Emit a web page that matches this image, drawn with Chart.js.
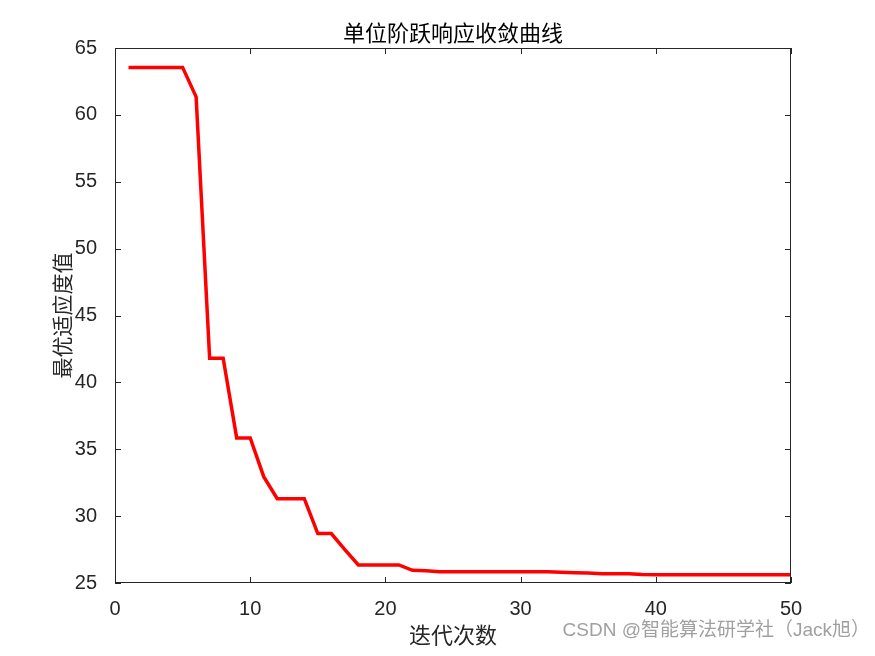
<!DOCTYPE html>
<html>
<head>
<meta charset="utf-8">
<script src="https://cdn.jsdelivr.net/npm/chart.js@4.4.1/dist/chart.umd.min.js"></script>
<style>
  html, body { margin: 0; padding: 0; background: #fff; }
  canvas { display: block; }
</style>
</head>
<body>
<canvas id="chart" width="875" height="656"></canvas>
<script>
// 迭代次数 (x)
const iterations = [1, 2, 3, 4, 5, 6, 7, 8, 9, 10,
  11, 12, 13, 14, 15, 16, 17, 18, 19, 20,
  21, 22, 23, 24, 25, 26, 27, 28, 29, 30,
  31, 32, 33, 34, 35, 36, 37, 38, 39, 40,
  41, 42, 43, 44, 45, 46, 47, 48, 49, 50];

// 最优适应度值
const bestFitness = [63.55, 63.55, 63.55, 63.55, 63.55, 61.35, 41.8, 41.8, 35.85, 35.85,
  32.95, 31.3, 31.3, 31.3, 28.7, 28.7, 27.5, 26.35, 26.35, 26.35,
  26.35, 25.95, 25.92, 25.85, 25.85, 25.85, 25.85, 25.85, 25.85, 25.85,
  25.85, 25.84, 25.8, 25.77, 25.74, 25.7, 25.7, 25.7, 25.63, 25.62,
  25.62, 25.62, 25.62, 25.62, 25.62, 25.62, 25.62, 25.62, 25.62, 25.62];

const xTicks = [0, 10, 20, 30, 40, 50];
const yTicks = [25, 30, 35, 40, 45, 50, 55, 60, 65];

const chartTitle = '单位阶跃响应收敛曲线';
const xLabel = '迭代次数';
const yLabel = '最优适应度值';
const watermark = 'CSDN @智能算法研学社（Jack旭）';

const axisColor = '#262626';
const cjkFont = '"Noto Sans CJK SC", "Noto Sans", sans-serif';
const latinFont = '"Liberation Sans", Arial, sans-serif';

// 画边框、内向刻度和文字（MATLAB 风格）
const matlabBox = {
  id: 'matlabBox',
  afterDraw(chart) {
    const c = chart.ctx;
    const a = chart.chartArea;
    const xs = chart.scales.x;
    const ys = chart.scales.y;
    const tl = 6;
    c.save();
    c.strokeStyle = axisColor;
    c.lineWidth = 1;
    c.strokeRect(a.left + 0.5, a.top + 0.5, a.right - a.left - 1, a.bottom - a.top - 1);
    c.beginPath();
    xTicks.forEach(v => {
      const px = Math.round(xs.getPixelForValue(v)) + 0.5;
      c.moveTo(px, a.bottom); c.lineTo(px, a.bottom - tl);
      c.moveTo(px, a.top); c.lineTo(px, a.top + tl);
    });
    yTicks.forEach(v => {
      const py = Math.round(ys.getPixelForValue(v)) + 0.5;
      c.moveTo(a.left, py); c.lineTo(a.left + tl, py);
      c.moveTo(a.right, py); c.lineTo(a.right - tl, py);
    });
    c.stroke();

    const cx = (a.left + a.right) / 2;
    c.fillStyle = '#000';
    c.textAlign = 'center';
    c.textBaseline = 'middle';
    c.font = '22px ' + cjkFont;
    c.fillText(chartTitle, cx, 33);
    c.fillStyle = axisColor;
    c.fillText(xLabel, cx, 635);

    c.save();
    c.translate(62, (a.top + a.bottom) / 2);
    c.rotate(-Math.PI / 2);
    c.font = '21px ' + cjkFont;
    c.fillText(yLabel, 0, 0);
    c.restore();

    c.fillStyle = '#a0a0a0';
    c.textAlign = 'right';
    c.font = '19px "Liberation Sans", Arial, ' + cjkFont;
    c.fillText(watermark, 870, 631);
    c.restore();
  }
};

new Chart(document.getElementById('chart'), {
  type: 'line',
  data: {
    labels: iterations,
    datasets: [{
      label: yLabel,
      data: iterations.map((it, i) => ({ x: it, y: bestFitness[i] })),
      borderColor: '#ff0000',
      borderWidth: 3.5,
      pointRadius: 0,
      tension: 0,
      fill: false
    }]
  },
  options: {
    responsive: false,
    animation: false,
    devicePixelRatio: 1,
    layout: { padding: { top: 48, right: 84, left: 0, bottom: 0 } },
    plugins: {
      legend: { display: false },
      tooltip: { enabled: false },
      title: { display: false }
    },
    scales: {
      x: {
        type: 'linear',
        min: 0,
        max: 50,
        afterFit: s => { s.height = 73; },
        afterBuildTicks: s => { s.ticks = xTicks.map(v => ({ value: v })); },
        grid: { display: false },
        border: { display: false },
        ticks: {
          padding: 6,
          color: axisColor,
          maxRotation: 0,
          font: { size: 20, family: latinFont }
        }
      },
      y: {
        min: 25,
        max: 65,
        afterFit: s => { s.width = 115; },
        afterBuildTicks: s => { s.ticks = yTicks.map(v => ({ value: v })); },
        grid: { display: false },
        border: { display: false },
        ticks: {
          padding: 10,
          color: axisColor,
          font: { size: 20, family: latinFont }
        }
      }
    }
  },
  plugins: [matlabBox]
});
</script>
</body>
</html>
